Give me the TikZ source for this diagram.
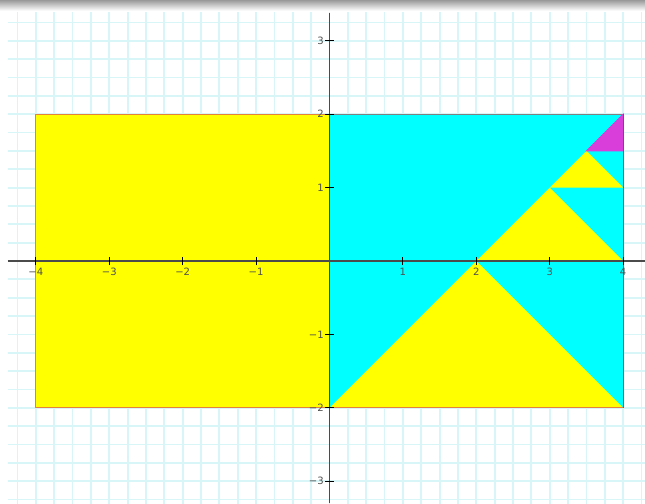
\documentclass[tikz,border=0pt]{standalone}
\usepackage{fontspec}
\setmainfont{DejaVu Sans}
\definecolor{gridcyan}{RGB}{216,246,248}
\definecolor{axisgray}{RGB}{75,75,75}
\definecolor{labelgray}{RGB}{80,80,80}
\definecolor{edgeorange}{RGB}{228,130,60}
\definecolor{regionyellow}{RGB}{255,255,0}
\definecolor{regioncyan}{RGB}{0,255,255}
\definecolor{pinkfill}{RGB}{218,62,218}
\tikzset{
  tickmark/.style={line width=0.45pt,black},
  ticklabel/.style={inner sep=0pt,text=labelgray}
}
\begin{document}
\begin{tikzpicture}[x=1cm,y=1cm,font=\fontsize{3.9}{4.5}\selectfont,line width=0.4pt]
  \useasboundingbox (-4.489,-3.297) rectangle (4.298,3.556);
  % top shadow
  \shade[top color=black!40,bottom color=white] (-4.489,3.556) rectangle (4.298,3.41);
  % grid
  \begin{scope}
    \clip (-4.38,-3.297) rectangle (4.298,3.38);
    \draw[gridcyan,line width=0.7pt,step=0.25] (-4.5,-3.5) grid (4.5,3.5);
  \end{scope}
  % regions
  \filldraw[fill=regionyellow,draw=edgeorange] (-4,-2) rectangle (0,2);
  \filldraw[fill=regioncyan,draw=gray] (0,-2) rectangle (4,2);
  \fill[regionyellow] (0,-2) -- (4,-2) -- (2,0) -- cycle;
  \fill[regionyellow] (2,0) -- (4,0) -- (3,1) -- cycle;
  \fill[regionyellow] (3,1) -- (4,1) -- (3.5,1.5) -- cycle;
  \filldraw[fill=pinkfill,draw=pinkfill] (3.5,1.5) -- (4,1.5) -- (4,2) -- cycle;
  \draw[red!70!pinkfill] (4,1.5) -- (4,2);
  \draw[edgeorange] (0,-2) -- (4,-2);
  \draw[red!50!gray] (4,-2) -- (4,1.5);
  % axes
  \draw[axisgray,line width=0.55pt] (-4.38,0) -- (4.298,0);
  \draw[axisgray,line width=0.55pt] (0,-3.297) -- (0,3.38);
  \foreach \i/\t/\n in {-4/−4/m4,-3/−3/m3,-2/−2/m2,-1/−1/m1,1/1/p1,2/2/p2,3/3/p3,4/4/p4} {
    \draw[tickmark] (\i,-0.055) -- (\i,0.055);
    \node[ticklabel] (xl\n) at (\i,-0.145) {\t};
  }
  \foreach \j/\t/\n in {-3/−3/m3,-2/−2/m2,-1/−1/m1,1/1/p1,2/2/p2,3/3/p3} {
    \draw[tickmark] (-0.055,\j) -- (0.055,\j);
    \node[ticklabel,anchor=east] (yl\n) at (-0.072,\j) {\t};
  }
\end{tikzpicture}
\end{document}
